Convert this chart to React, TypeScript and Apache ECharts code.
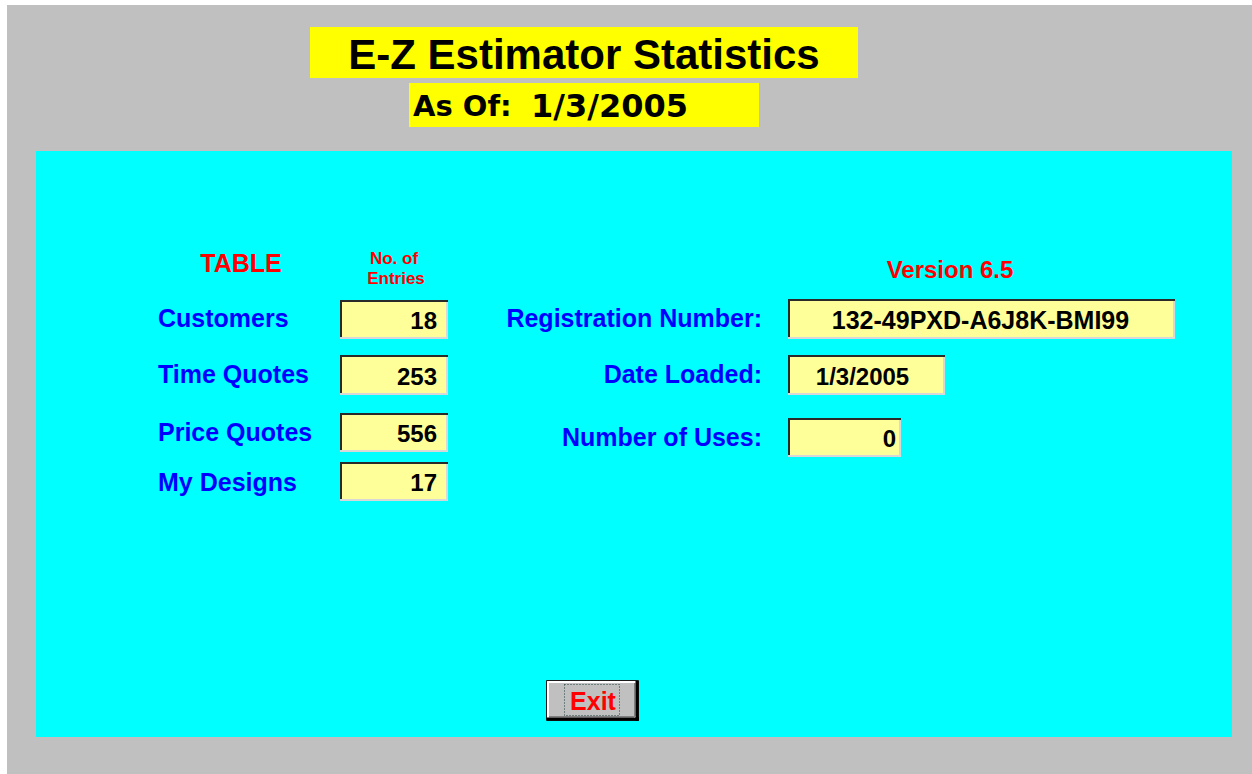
import React, { useEffect, useRef } from "react";
import * as echarts from "echarts";

const titleText = "E-Z Estimator Statistics";
const asOfLabel = "As Of:";
const asOfDate = "1/3/2005";
const versionText = "Version 6.5";
const tableHeader = "TABLE";
const entriesHeader = ["No. of", "Entries"];
const tableNames = ["Customers", "Time Quotes", "Price Quotes", "My Designs"];
const entryCounts = [18, 253, 556, 17];
const infoLabels = ["Registration Number:", "Date Loaded:", "Number of Uses:"];
const infoValues = ["132-49PXD-A6J8K-BMI99", "1/3/2005", "0"];
const exitLabel = "Exit";

const SANS = '"Liberation Sans", Arial, Helvetica, sans-serif';

function sunkenBox(x: number, y: number, w: number, h: number): any[] {
  return [
    { type: "rect", shape: { x, y, width: w, height: h }, style: { fill: "#ffff99" } },
    { type: "line", shape: { x1: x, y1: y + 1, x2: x + w, y2: y + 1 }, style: { stroke: "#2a2a2a", lineWidth: 2 } },
    { type: "line", shape: { x1: x + 1, y1: y, x2: x + 1, y2: y + h }, style: { stroke: "#2a2a2a", lineWidth: 2 } },
    { type: "line", shape: { x1: x, y1: y + h - 1, x2: x + w, y2: y + h - 1 }, style: { stroke: "#d8d8d8", lineWidth: 2 } },
    { type: "line", shape: { x1: x + w - 1, y1: y + 2, x2: x + w - 1, y2: y + h }, style: { stroke: "#d8d8d8", lineWidth: 2 } },
  ];
}

function txt(text: string, x: number, y: number, size: number, fill: string, align: string = "left", family: string = SANS): any {
  return {
    type: "text",
    style: {
      text,
      x,
      y,
      fill,
      font: `bold ${size}px ${family}`,
      textAlign: align,
      textVerticalAlign: "middle",
    },
  };
}

export default function App() {
  const ref = useRef<HTMLDivElement>(null);

  useEffect(() => {
    if (!ref.current) return;
    const chart = echarts.init(ref.current, null, { renderer: "svg" });

    const g: any[] = [];
    // frame backgrounds
    g.push({ type: "rect", shape: { x: 7, y: 5, width: 1245, height: 769 }, style: { fill: "#c0c0c0" } });
    g.push({ type: "rect", shape: { x: 36, y: 151, width: 1196, height: 586 }, style: { fill: "#00ffff" } });

    // title
    g.push({ type: "rect", shape: { x: 310, y: 27, width: 548, height: 51 }, style: { fill: "#ffff00" } });
    g.push(txt(titleText, 584, 54, 42, "#000000", "center"));
    g.push({ type: "rect", shape: { x: 409, y: 83, width: 350, height: 44 }, style: { fill: "#ffff00" } });
    g.push(txt(asOfLabel, 413, 106, 29, "#000000", "left", '"DejaVu Sans", sans-serif'));
    g.push(txt(asOfDate, 531, 106, 32, "#000000", "left", '"DejaVu Sans", sans-serif'));

    // headers
    g.push(txt(tableHeader, 241, 263, 25, "#ff0000", "center"));
    g.push(txt(entriesHeader[0], 394, 258, 17, "#ff0000", "center"));
    g.push(txt(entriesHeader[1], 396, 278, 17, "#ff0000", "center"));
    g.push(txt(versionText, 950, 269, 24, "#ff0000", "center"));

    // left table
    const leftBoxes = [
      [340, 300, 108, 39],
      [340, 355, 108, 40],
      [340, 413, 108, 39],
      [340, 462, 108, 39],
    ];
    const leftLabelY = [318, 374, 432, 482];
    tableNames.forEach((name, i) => {
      const [bx, by, bw, bh] = leftBoxes[i];
      g.push(txt(name, 158, leftLabelY[i], 25, "#0000ff", "left"));
      g.push(...sunkenBox(bx, by, bw, bh));
      g.push(txt(String(entryCounts[i]), 437, by + bh / 2 + 1, 24, "#000000", "right"));
    });

    // right info
    const rightBoxes = [
      [788, 299, 387, 40],
      [788, 355, 157, 40],
      [788, 418, 113, 39],
    ];
    const rightLabelY = [318, 374, 437];
    infoLabels.forEach((lab, i) => {
      const [bx, by, bw, bh] = rightBoxes[i];
      g.push(txt(lab, 762, rightLabelY[i], 25, "#0000ff", "right"));
      g.push(...sunkenBox(bx, by, bw, bh));
      if (i === 2) {
        g.push(txt(infoValues[i], 896, by + bh / 2 + 1, 24, "#000000", "right"));
      } else if (i === 1) {
        g.push(txt(infoValues[i], bx + bw / 2 - 4, by + bh / 2 + 1, 24, "#000000", "center"));
      } else {
        g.push(txt(infoValues[i], bx + bw / 2 - 1, by + bh / 2 + 1, 25, "#000000", "center"));
      }
    });

    // exit button
    const ex = 546, ey = 680, ew = 93, eh = 41;
    g.push({ type: "rect", shape: { x: ex + 0.5, y: ey + 0.5, width: ew - 1, height: eh - 1 }, style: { fill: "#c0c0c0", stroke: "#1a1a1a", lineWidth: 1 } });
    g.push({ type: "line", shape: { x1: ex + 1.5, y1: ey + 2, x2: ex + ew - 3, y2: ey + 2 }, style: { stroke: "#ffffff", lineWidth: 2 } });
    g.push({ type: "line", shape: { x1: ex + 2, y1: ey + 1.5, x2: ex + 2, y2: ey + eh - 3 }, style: { stroke: "#ffffff", lineWidth: 2 } });
    g.push({ type: "line", shape: { x1: ex + 1, y1: ey + eh - 2, x2: ex + ew, y2: ey + eh - 2 }, style: { stroke: "#000000", lineWidth: 3 } });
    g.push({ type: "line", shape: { x1: ex + ew - 2, y1: ey + 1, x2: ex + ew - 2, y2: ey + eh }, style: { stroke: "#000000", lineWidth: 3 } });
    g.push({ type: "line", shape: { x1: ex + 3, y1: ey + eh - 4.5, x2: ex + ew - 3, y2: ey + eh - 4.5 }, style: { stroke: "#808080", lineWidth: 1 } });
    g.push({ type: "line", shape: { x1: ex + ew - 4.5, y1: ey + 3, x2: ex + ew - 4.5, y2: ey + eh - 3 }, style: { stroke: "#808080", lineWidth: 1 } });
    g.push({ type: "rect", shape: { x: 564.5, y: 684.5, width: 55, height: 31 }, style: { fill: "none", stroke: "#1f3f3f", lineWidth: 1, lineDash: [1, 2] } });
    g.push(txt(exitLabel, 593, 701, 25, "#ff0000", "center"));

    chart.setOption({
      animation: false,
      backgroundColor: "#ffffff",
      graphic: { elements: g },
    });

    return () => chart.dispose();
  }, []);

  return (
    <div
      ref={ref}
      style={{ position: "fixed", left: 0, top: 0, width: 1252, height: 774 }}
    />
  );
}
